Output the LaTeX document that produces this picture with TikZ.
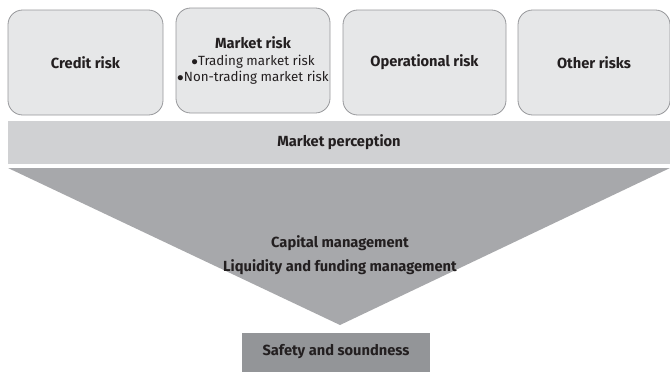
\documentclass[tikz,border=0pt]{standalone}
\usepackage{fontspec}
\setmainfont{Fira Sans}
\usepackage{tikz}
\usepackage[dvipsnames]{xcolor}

\definecolor{riskfill}{RGB}{230,231,232}
\definecolor{riskline}{RGB}{150,151,154}
\definecolor{bandfill}{RGB}{208,209,211}
\definecolor{funnelfill}{RGB}{167,168,171}
\definecolor{safefill}{RGB}{147,149,152}
\definecolor{inktext}{RGB}{35,31,32}

\tikzset{
	riskbox/.style={draw=riskline, line width=0.6pt, fill=riskfill, rounded corners=11pt,
		minimum height=78.75pt, align=center, inner sep=0pt, text=inktext, font=\fontsize{11}{12.5}\selectfont\bfseries},
	bandbox/.style={fill=bandfill, minimum width=496.5pt, minimum height=32.25pt, inner sep=0pt,
		text=inktext, font=\fontsize{11}{12.5}\selectfont\bfseries},
	safebox/.style={fill=safefill, minimum width=141pt, minimum height=29.25pt, inner sep=0pt,
		text=inktext, font=\fontsize{11}{12.5}\selectfont\bfseries}
}

\begin{document}
\begin{tikzpicture}[x=0.75pt,y=0.75pt,yscale=-1,xscale=1]
			\useasboundingbox (0,0) rectangle (670,372);

			% Risk boxes
			\node [riskbox, minimum width=116.25pt] (credit) at (85.5,62.5) {Credit risk};
			\node [riskbox, minimum width=115.5pt] (market) at (253,60.5) {Market risk\\[0pt]
				{\mdseries\fontsize{10}{10.5}\selectfont $\bullet$Trading market risk}\\
				{\mdseries\fontsize{10}{10.5}\selectfont $\bullet$Non-trading market risk}};
			\node [riskbox, minimum width=122.25pt] (operational) at (424.5,62.5) {Operational risk};
			\node [riskbox, minimum width=114pt] (other) at (594,62.5) {Other risks};

			% Band
			\node [bandbox] (perception) at (339,142.5) {Market perception};

			% Funnel
			\coordinate (funnelL) at (8,168);
			\coordinate (funnelR) at (670,168);
			\coordinate (funnelTip) at (340,325);
			\fill [funnelfill] (funnelL) -- (funnelR) -- (funnelTip) -- cycle;
			\node [align=center, text=inktext, font=\fontsize{11}{18}\selectfont\bfseries] (capital) at (340,255)
				{Capital management\\Liquidity and funding management};

			% Result
			\node [safebox] (safety) at (336,352) {Safety and soundness};
		\end{tikzpicture}
\end{document}
